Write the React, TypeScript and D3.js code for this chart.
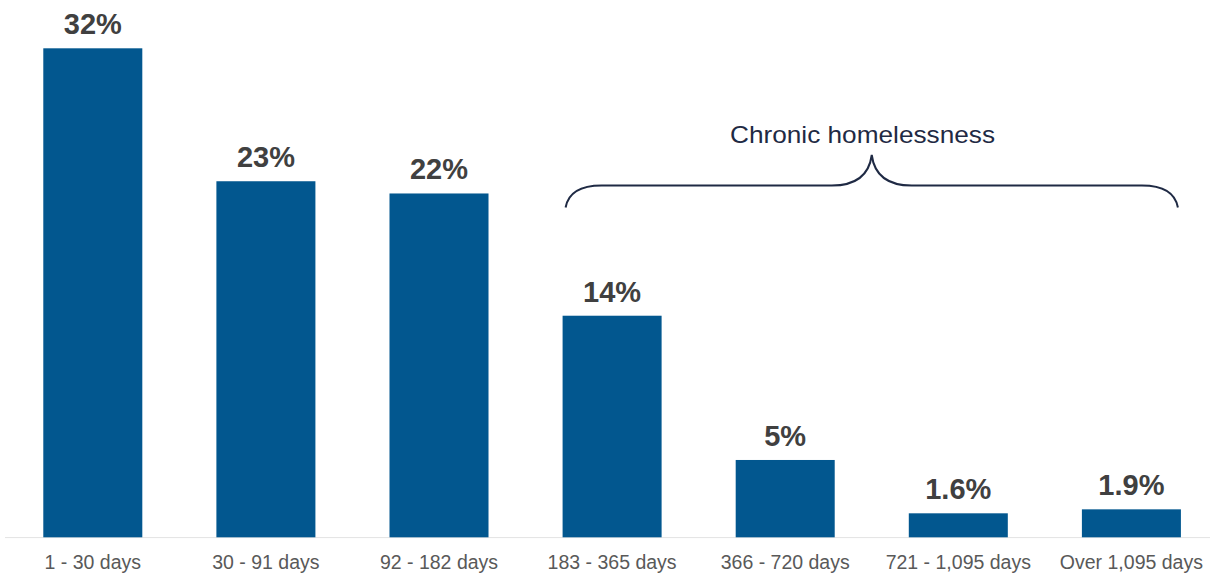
import React from "react";
import * as d3 from "d3";

const categories = [
  "1 - 30 days",
  "30 - 91 days",
  "92 - 182 days",
  "183 - 365 days",
  "366 - 720 days",
  "721 - 1,095 days",
  "Over 1,095 days",
];
const values = [32.0, 23.3, 22.5, 14.5, 5.06, 1.57, 1.83];
const valueLabels = ["32%", "23%", "22%", "14%", "5%", "1.6%", "1.9%"];
const braceLabel = "Chronic homelessness";
const braceFrom = "183 - 365 days";
const braceTo = "Over 1,095 days";

const W = 1214;
const H = 573;
const BASE = 537.3;

export default function App() {
  const x = d3
    .scaleBand<string>()
    .domain(categories)
    .range([6.25, 1217.95])
    .paddingInner(0.428)
    .paddingOuter(0.214);
  const y = d3.scaleLinear().domain([0, 32]).range([BASE, 48.3]);
  const bw = x.bandwidth();

  // brace
  const bx0 = (x(braceFrom) as number) + 3;
  const bx1 = (x(braceTo) as number) + bw - 3;
  const bc = (bx0 + bx1) / 2;
  const yEnd = 207.5;
  const yLine = 185.5;
  const yPeak = 155;
  const p = d3.path();
  p.moveTo(bx0, yEnd);
  p.quadraticCurveTo(bx0 + 4, yLine, bx0 + 36, yLine);
  p.lineTo(bc - 40, yLine);
  p.quadraticCurveTo(bc - 4, yLine, bc, yPeak);
  p.quadraticCurveTo(bc + 4, yLine, bc + 40, yLine);
  p.lineTo(bx1 - 36, yLine);
  p.quadraticCurveTo(bx1 - 4, yLine, bx1, yEnd);

  return (
    <svg
      width={W}
      height={H}
      style={{ position: "absolute", left: 0, top: 0, background: "#fff" }}
      fontFamily="'Liberation Sans', Arial, sans-serif"
    >
      <line x1={5} x2={1210} y1={BASE + 0.3} y2={BASE + 0.3} stroke="#e3e3e3" strokeWidth={1} />
      {categories.map((c, i) => (
        <g key={c}>
          <rect
            x={x(c)}
            y={y(values[i])}
            width={bw}
            height={BASE - y(values[i])}
            fill="#02578f"
          />
          <text
            x={(x(c) as number) + bw / 2}
            y={y(values[i]) - 14}
            textAnchor="middle"
            fontSize={29}
            fontWeight="bold"
            fill="#404040"
          >
            {valueLabels[i]}
          </text>
          <text
            x={(x(c) as number) + bw / 2}
            y={569}
            textAnchor="middle"
            fontSize={19.5}
            fill="#595959"
          >
            {c}
          </text>
        </g>
      ))}
      <path d={p.toString()} fill="none" stroke="#1f2a44" strokeWidth={2} />
      <text
        x={862.5}
        y={143.3}
        textAnchor="middle"
        fontSize={24.5}
        fill="#1f2a44"
        textLength={265}
        lengthAdjust="spacingAndGlyphs"
      >
        {braceLabel}
      </text>
    </svg>
  );
}
